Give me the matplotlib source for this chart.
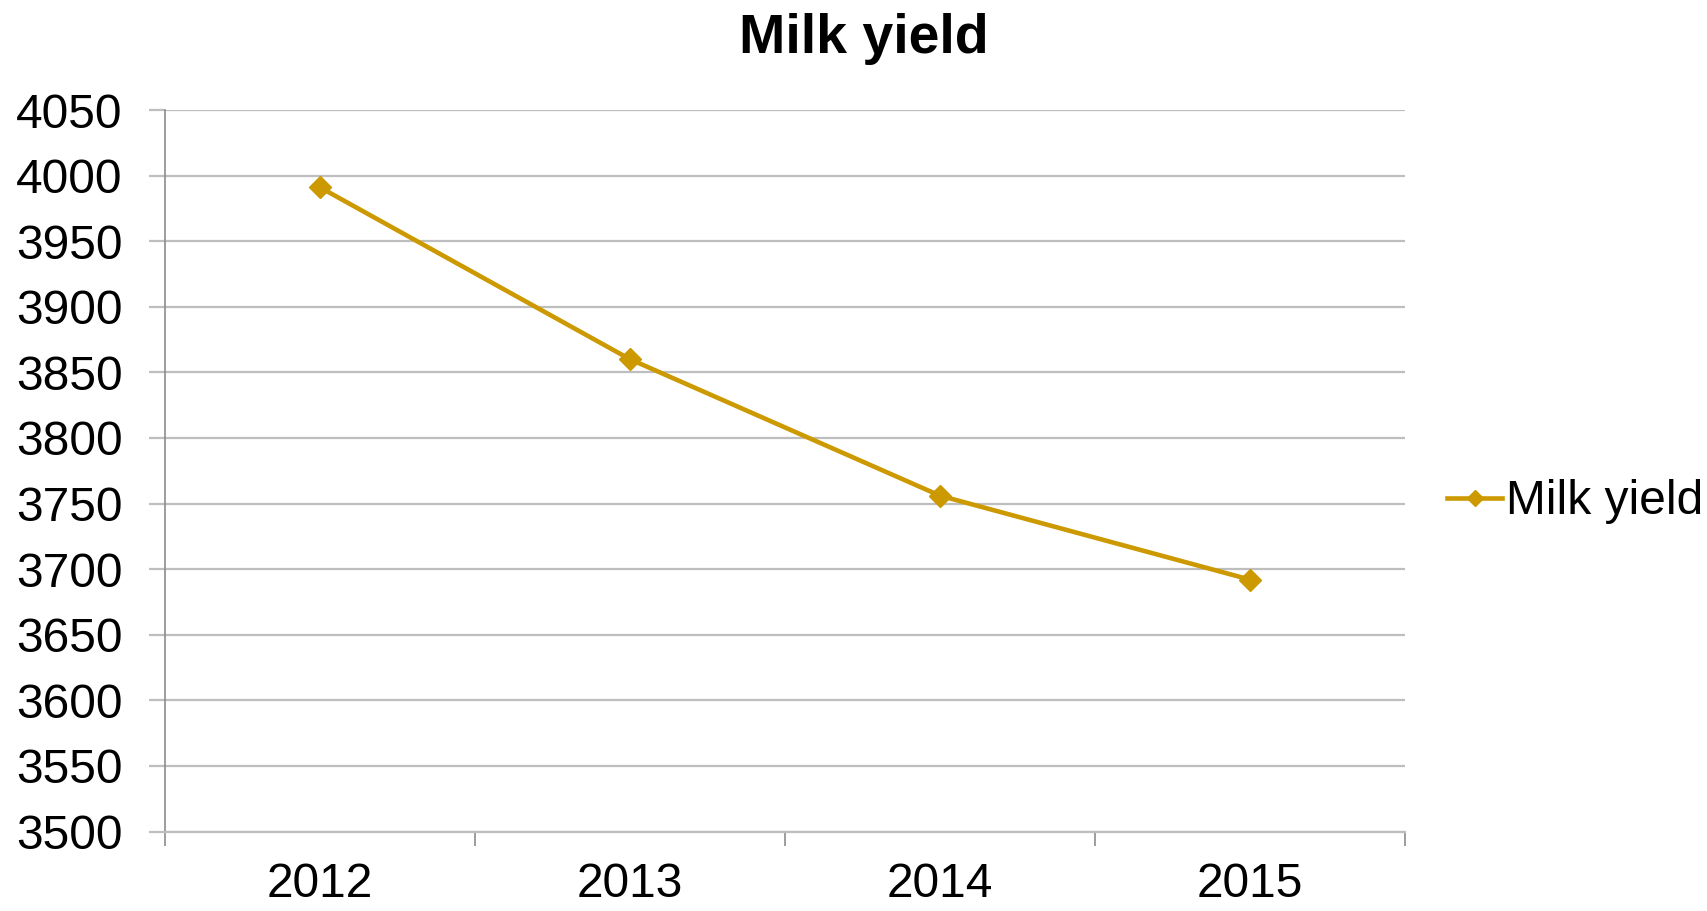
import matplotlib.pyplot as plt

years = ['2012', '2013', '2014', '2015']
milk_yield = [3991, 3860, 3756, 3692]
series_name = 'Milk yield'

gold = '#CC9900'
grid_grey = '#BEBEBE'

plt.rcParams['font.family'] = ['Liberation Sans', 'DejaVu Sans']

fig = plt.figure(figsize=(17.08, 9.11), dpi=100)
ax = fig.add_axes([165 / 1708, 1 - 831.5 / 911, (1405 - 165) / 1708, (831.5 - 110) / 911])

x = list(range(len(years)))
ax.plot(x, milk_yield, color=gold, lw=3.3, marker='D', markersize=11.5,
        label=series_name, zorder=3)

ax.set_xlim(-0.5, len(years) - 0.5)
ax.set_ylim(3500, 4050)
ax.set_yticks(range(3500, 4051, 50))
ax.set_xticks(x)
ax.set_xticklabels(years)
ax.set_xticks([i - 0.5 for i in range(len(years) + 1)], minor=True)

ax.yaxis.grid(True, color=grid_grey, lw=1.6)
ax.set_axisbelow(True)
for s in ['top', 'right']:
    ax.spines[s].set_visible(False)
ax.spines['left'].set_color('#8C8C8C')
ax.spines['left'].set_linewidth(1.2)
ax.spines['bottom'].set_color(grid_grey)
ax.spines['bottom'].set_linewidth(1.6)

ax.tick_params(axis='y', length=11.5, width=1.6, color=grid_grey, pad=19, labelsize=34.5)
ax.tick_params(axis='x', which='major', length=0, pad=22, labelsize=34.5)
ax.tick_params(axis='x', which='minor', length=10, width=1.2, color='#8C8C8C')

fig.text(864 / 1708, 1 - 53 / 911, 'Milk yield', ha='center', va='baseline',
         fontsize=40, fontweight='bold')

ax.legend(loc='center left', bbox_to_anchor=(1447 / 1708, 1 - 502 / 911),
          bbox_transform=fig.transFigure, frameon=False, fontsize=34.5,
          handlelength=1.15, handletextpad=0.08, borderpad=0, borderaxespad=0,
          markerscale=0.75)

fig.savefig('out.png', dpi=100, facecolor='white')
